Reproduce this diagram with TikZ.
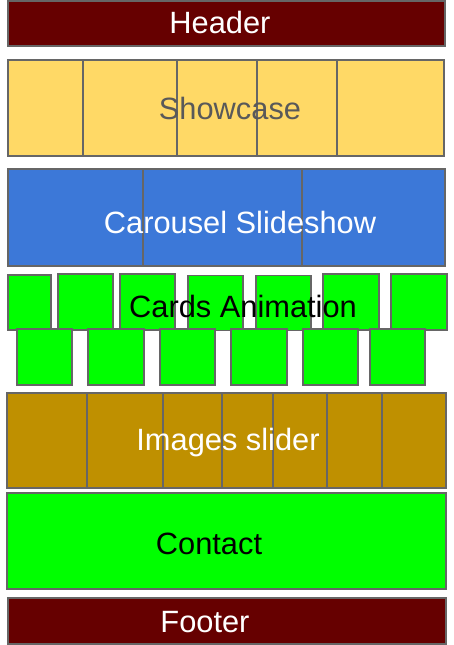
\documentclass[tikz,border=0pt]{standalone}
\usepackage{fontspec}
\setmainfont{Liberation Sans}
\usetikzlibrary{positioning}

\definecolor{hdred}{HTML}{660000}
\definecolor{showyellow}{HTML}{FFD966}
\definecolor{carblue}{HTML}{3C78D8}
\definecolor{imgolive}{HTML}{BF9000}
\definecolor{cardgreen}{HTML}{00FF00}
\definecolor{edgegray}{HTML}{666666}
\definecolor{labgray}{HTML}{595959}

\begin{document}
\begin{tikzpicture}[x=1pt,y=-1pt,
 tile/.style={draw=edgegray,line width=1.2pt,inner sep=0pt,outer sep=0pt},
 caption/.style={anchor=base,font=\fontsize{30.8}{34}\selectfont,inner sep=0pt}]
\useasboundingbox (0,0) rectangle (453,645);
% header and footer
\node[tile,fill=hdred,minimum width=437pt,minimum height=45pt] (header) at (226.5,23.5) {};
\node[tile,fill=hdred,minimum width=438pt,minimum height=46pt] (footer) at (227,621) {};
% showcase
\node[tile,fill=showyellow,minimum width=75pt,minimum height=96pt] (sc1) at (45.5,108) {};
\node[tile,fill=showyellow,minimum width=94pt,minimum height=96pt] (sc2) at (130,108) {};
\node[tile,fill=showyellow,minimum width=80pt,minimum height=96pt] (sc3) at (217,108) {};
\node[tile,fill=showyellow,minimum width=80pt,minimum height=96pt] (sc4) at (297,108) {};
\node[tile,fill=showyellow,minimum width=107pt,minimum height=96pt] (sc5) at (390.5,108) {};
% carousel
\node[tile,fill=carblue,minimum width=135pt,minimum height=97pt] (cs1) at (75.5,217.5) {};
\node[tile,fill=carblue,minimum width=159pt,minimum height=97pt] (cs2) at (222.5,217.5) {};
\node[tile,fill=carblue,minimum width=143pt,minimum height=97pt] (cs3) at (373.5,217.5) {};
% cards, upper row
\node[tile,fill=cardgreen,minimum width=43pt,minimum height=55pt] (ca1) at (29.5,302.5) {};
\node[tile,fill=cardgreen,minimum width=55pt,minimum height=56pt] (ca2) at (85.5,302) {};
\node[tile,fill=cardgreen,minimum width=55pt,minimum height=56pt] (ca3) at (147.5,302) {};
\node[tile,fill=cardgreen,minimum width=55pt,minimum height=55pt] (ca4) at (215.5,303) {};
\node[tile,fill=cardgreen,minimum width=55pt,minimum height=55pt] (ca5) at (283.5,303) {};
\node[tile,fill=cardgreen,minimum width=56pt,minimum height=56pt] (ca6) at (351,302) {};
\node[tile,fill=cardgreen,minimum width=56pt,minimum height=56pt] (ca7) at (419,302) {};
% cards, lower row
\node[tile,fill=cardgreen,minimum width=55pt,minimum height=56pt] (cb1) at (44.5,357) {};
\node[tile,fill=cardgreen,minimum width=56pt,minimum height=56pt] (cb2) at (116,357) {};
\node[tile,fill=cardgreen,minimum width=55pt,minimum height=56pt] (cb3) at (187.5,357) {};
\node[tile,fill=cardgreen,minimum width=56pt,minimum height=56pt] (cb4) at (259,357) {};
\node[tile,fill=cardgreen,minimum width=55pt,minimum height=56pt] (cb5) at (330.5,357) {};
\node[tile,fill=cardgreen,minimum width=55pt,minimum height=56pt] (cb6) at (397.5,357) {};
% images slider
\node[tile,fill=imgolive,minimum width=80pt,minimum height=95pt] (is1) at (47,440.5) {};
\node[tile,fill=imgolive,minimum width=76pt,minimum height=95pt] (is2) at (125,440.5) {};
\node[tile,fill=imgolive,minimum width=59pt,minimum height=95pt] (is3) at (192.5,440.5) {};
\node[tile,fill=imgolive,minimum width=51pt,minimum height=95pt] (is4) at (247.5,440.5) {};
\node[tile,fill=imgolive,minimum width=54pt,minimum height=95pt] (is5) at (300,440.5) {};
\node[tile,fill=imgolive,minimum width=55pt,minimum height=95pt] (is6) at (354.5,440.5) {};
\node[tile,fill=imgolive,minimum width=64pt,minimum height=95pt] (is7) at (414,440.5) {};
% contact
\node[tile,fill=cardgreen,minimum width=439pt,minimum height=96pt] (contact) at (226.5,541) {};
% captions
\node[caption,text=white] (headertxt) at (220,33.5) {Header};
\node[caption,text=labgray] (sctxt) at (230,119) {Showcase};
\node[caption,text=white] (cstxt) at (240,233) {Carousel Slideshow};
\node[caption,text=black] (catxt) at (243,317) {Cards Animation};
\node[caption,text=white] (istxt) at (228,450) {Images slider};
\node[caption,text=black] (contacttxt) at (209,554) {Contact};
\node[caption,text=white] (footertxt) at (205,632) {Footer};
\end{tikzpicture}
\end{document}
